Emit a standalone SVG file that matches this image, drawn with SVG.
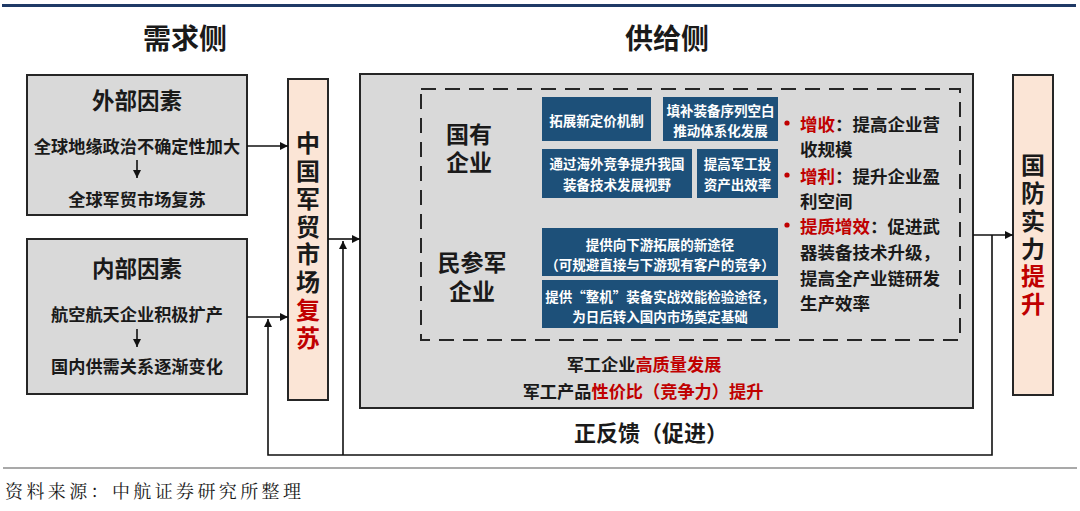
<svg xmlns="http://www.w3.org/2000/svg" width="1080" height="511" viewBox="0 0 1080 511">
<style>
text{font-family:"Noto Sans CJK SC","Noto Sans",sans-serif;font-weight:700;fill:#1a1a1a;text-anchor:middle;dominant-baseline:central}
.gray{fill:#d9d9d9;stroke:#262626;stroke-width:2}
.peach{fill:#fbe5d6;stroke:#262626;stroke-width:2}
.blue{fill:#1d5079}
.w{fill:#fff;font-size:13.5px}
.red{fill:#c00000}
.ln{fill:none;stroke:#111;stroke-width:1.6}
.h1{font-size:28px}
.h2{font-size:22.5px}
.t17{font-size:17.2px}
.v{font-size:23px;font-family:"Liberation Sans","Noto Sans CJK SC",sans-serif}
.vt{font-size:24px;writing-mode:vertical-rl;text-orientation:upright;letter-spacing:3.8px;text-anchor:start}
.b{font-size:17.5px;text-anchor:start}
</style>
<defs>
<marker id="ah" viewBox="0 0 10 10" refX="10" refY="5" markerWidth="9" markerHeight="8" markerUnits="userSpaceOnUse" orient="auto">
<path d="M0,0 L10,5 L0,10 z" fill="#111"/>
</marker>
</defs>
<rect x="0" y="0" width="1080" height="511" fill="#fff"/>
<line x1="2" y1="5.5" x2="1076" y2="5.5" stroke="#1f3a66" stroke-width="3"/>

<text class="h1" x="185" y="37">需求侧</text>
<text class="h1" x="667" y="37">供给侧</text>

<g id="external">
<rect class="gray" x="27" y="75" width="220" height="140"/>
<text class="h2" x="137" y="99">外部因素</text>
<text class="t17" x="137" y="145">全球地缘政治不确定性加大</text>
<line class="ln" x1="137" y1="160" x2="137" y2="178" marker-end="url(#ah)"/>
<text class="t17" x="137" y="198">全球军贸市场复苏</text>
</g>

<g id="internal">
<rect class="gray" x="27" y="239" width="220" height="155"/>
<text class="h2" x="137" y="267">内部因素</text>
<text class="t17" x="137" y="313">航空航天企业积极扩产</text>
<line class="ln" x1="137" y1="329" x2="137" y2="347" marker-end="url(#ah)"/>
<text class="t17" x="137" y="365">国内供需关系逐渐变化</text>
</g>

<g id="market">
<rect class="peach" x="288" y="79" width="40" height="321"/>
<text class="vt" x="308" y="131">中国军贸市场<tspan class="red">复苏</tspan></text>
</g>

<g id="supply">
<rect class="gray" x="360" y="74" width="613" height="334"/>
<rect x="421" y="89" width="539" height="251" fill="none" stroke="#262626" stroke-width="2" stroke-dasharray="15 9"/>
<text class="v"><tspan x="469" y="135">国有</tspan><tspan x="469" y="163">企业</tspan></text>
<text class="v"><tspan x="472" y="263">民参军</tspan><tspan x="472" y="292">企业</tspan></text>
<text class="t17"><tspan x="644" y="363">军工企业<tspan class="red">高质量发展</tspan></tspan><tspan x="643" y="390">军工产品<tspan class="red">性价比（竞争力）提升</tspan></tspan></text>
</g>

<g id="soe1"><rect class="blue" x="542" y="97" width="109" height="44"/><text class="w" x="596.5" y="120">拓展新定价机制</text></g>
<g id="soe2"><rect class="blue" x="663" y="97" width="115" height="44"/><text class="w"><tspan x="720.5" y="110">填补装备序列空白</tspan><tspan x="720.5" y="130">推动体系化发展</tspan></text></g>
<g id="soe3"><rect class="blue" x="542" y="149" width="150" height="49"/><text class="w"><tspan x="617" y="163">通过海外竞争提升我国</tspan><tspan x="617" y="184">装备技术发展视野</tspan></text></g>
<g id="soe4"><rect class="blue" x="697" y="149" width="81" height="49"/><text class="w"><tspan x="737.5" y="163">提高军工投</tspan><tspan x="737.5" y="184">资产出效率</tspan></text></g>
<g id="civ1"><rect class="blue" x="542" y="228" width="236" height="48"/><text class="w"><tspan x="660" y="244">提供向下游拓展的新途径</tspan><tspan x="660" y="264">（可规避直接与下游现有客户的竞争）</tspan></text></g>
<g id="civ2"><rect class="blue" x="542" y="280" width="236" height="48"/><text class="w"><tspan x="660" y="296">提供“整机”装备实战效能检验途径，</tspan><tspan x="660" y="316">为日后转入国内市场奠定基础</tspan></text></g>

<g id="benefits">
<circle cx="787" cy="123" r="2.6" fill="#c00000"/>
<circle cx="787" cy="175" r="2.6" fill="#c00000"/>
<circle cx="787" cy="225" r="2.6" fill="#c00000"/>
<text class="b"><tspan x="800" y="123"><tspan class="red">增收</tspan>：提高企业营</tspan><tspan x="800" y="148">收规模</tspan><tspan x="800" y="175"><tspan class="red">增利</tspan>：提升企业盈</tspan><tspan x="800" y="200">利空间</tspan><tspan x="800" y="225"><tspan class="red">提质增效</tspan>：促进武</tspan><tspan x="800" y="251">器装备技术升级，</tspan><tspan x="800" y="277">提高全产业链研发</tspan><tspan x="800" y="302">生产效率</tspan></text>
</g>

<g id="defense">
<rect class="peach" x="1013" y="75" width="40" height="320"/>
<text class="vt" x="1033" y="153">国防实力<tspan class="red">提升</tspan></text>
</g>

<g id="connectors">
<line class="ln" x1="247" y1="146" x2="288" y2="146" marker-end="url(#ah)"/>
<line class="ln" x1="247" y1="317" x2="288" y2="317" marker-end="url(#ah)"/>
<line class="ln" x1="328" y1="239" x2="360" y2="239" marker-end="url(#ah)"/>
<line class="ln" x1="973" y1="235" x2="1013" y2="235" marker-end="url(#ah)"/>
<path class="ln" d="M992,235 V455 H268 V319" marker-end="url(#ah)"/>
<path class="ln" d="M343,455 V241" marker-end="url(#ah)"/>
</g>
<text x="651" y="431" style="font-size:22px">正反馈（促进）</text>

<line x1="3" y1="468" x2="1077" y2="468" stroke="#555" stroke-width="1.2"/>
<text x="5" y="490" style="font-family:'Noto Serif CJK SC','Noto Sans CJK SC',serif;font-weight:400;font-size:18px;text-anchor:start" textLength="296" lengthAdjust="spacing">资料来源：中航证券研究所整理</text>
</svg>
